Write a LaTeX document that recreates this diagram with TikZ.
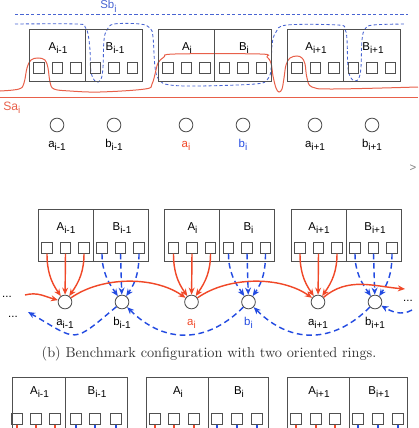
\documentclass[tikz,border=0pt]{standalone}
\usepackage{fontspec}
\newfontfamily\lblfont{Liberation Sans}
\usetikzlibrary{positioning,arrows.meta}

\definecolor{ringred}{RGB}{240,72,40}
\definecolor{ringblue}{RGB}{35,75,225}
\definecolor{setred}{RGB}{232,96,74}
\definecolor{setblue}{RGB}{72,100,210}
\definecolor{boxgray}{RGB}{80,80,80}

\newcommand{\sublbl}[2]{#1\raisebox{-0.6ex}{\fontsize{7}{8}\selectfont #2}}

\begin{document}
\begin{tikzpicture}[x=0.7pt, y=0.7pt, >={Stealth[length=5pt,width=4.2pt]},
    half/.style={rectangle, draw=boxgray, line width=0.7pt, minimum height=36.4pt, inner sep=0pt},
    port/.style={rectangle, draw=boxgray, line width=0.6pt, minimum size=7.2pt, inner sep=0pt},
    stn/.style={circle, draw=boxgray, line width=0.6pt, minimum size=9.6pt, inner sep=0pt},
    txt/.style={font=\lblfont\fontsize{8}{9}\selectfont, anchor=base, inner sep=0pt},
    redarr/.style={->, ringred, line width=1pt},
    bluearr/.style={->, ringblue, line width=1pt, dash pattern=on 4pt off 2.6pt},
    sa/.style={setred, line width=0.7pt},
    sb/.style={setblue, line width=0.6pt, dash pattern=on 2.2pt off 1.6pt}]
\useasboundingbox (0,0) rectangle (418,-428);

% Sets Sa and Sb
\draw[sb] (15,-14) -- (408,-14);
\draw[sb] plot[smooth, tension=0.6] coordinates {(15,-24) (77,-24) (85,-27) (88,-34) (90,-50) (91,-72) (96,-82) (101,-79) (103,-67) (104,-40) (107,-30) (114,-24) (140,-24) (150,-28) (153,-37) (155,-67) (159,-80) (170,-85) (200,-86) (255,-84) (267,-80) (271,-70) (272,-45) (276,-32) (287,-25) (338,-25) (345,-29) (347,-40) (348,-68) (351,-78) (355,-81) (359,-78) (361,-67) (362,-40) (365,-29) (373,-25) (405,-24)};
\draw[sa] (0,-97) -- (418,-97);
\draw[sa] plot[smooth, tension=0.6] coordinates {(0,-91) (19,-89) (24,-83) (27,-68) (31,-60) (38,-58) (45,-60) (48,-68) (50,-82) (54,-89) (70,-91) (100,-92) (145,-89) (152,-84) (156,-70) (158,-63) (164,-57) (175,-54) (260,-54) (267,-57) (271,-63) (273,-76) (276,-88) (279,-92) (282,-89) (284,-78) (286,-65) (290,-58) (297,-56) (302,-58) (305,-64) (307,-78) (312,-87) (333,-89) (418,-87)};
\node[txt, anchor=base west, text=setblue] (sblbl) at (100,-8.5) {\sublbl{Sb}{i}};
\node[txt, anchor=base west, text=setred, font=\lblfont\fontsize{8.5}{10}\selectfont] (salbl) at (3,-110) {\sublbl{Sa}{i}};

% (a) groups
\foreach \g/\s/\L/\ca/\cb in {1/i-1/29/black/black, 2/i/158/ringred/ringblue, 3/i+1/287/black/black}{
  \node[half, minimum width=39.55pt] (tA\g) at (\L+28.25,-55) {};
  \node[half, minimum width=39.55pt] (tB\g) at (\L+84.75,-55) {};
  \node[txt] (tAl\g) at (\L+29,-50) {\sublbl{A}{\s}};
  \node[txt] (tBl\g) at (\L+86,-50) {\sublbl{B}{\s}};
  \foreach \k/\dx in {1/10, 2/28.5, 3/47}{
    \node[port] (tA\g-\k) at (\L+\dx,-68) {};
    \node[port] (tB\g-\k) at (\L+56.5+\dx,-68) {};
  }
  \node[stn] (ta\g) at (\L+28,-125) {};
  \node[stn] (tb\g) at (\L+85,-125) {};
  \node[txt, text=\ca] (tal\g) at (\L+28,-147) {\sublbl{a}{\s}};
  \node[txt, text=\cb] (tbl\g) at (\L+85,-147) {\sublbl{b}{\s}};
}
\node[txt, text=black!50] (cut) at (413,-171) {>};

% (b) two oriented rings
\foreach \g/\s/\L/\ca/\cb in {1/i-1/38/black/black, 2/i/164.5/ringred/ringblue, 3/i+1/291/black/black}{
  \node[half, minimum width=38.5pt] (mA\g) at (\L+27.5,-235) {};
  \node[half, minimum width=38.5pt] (mB\g) at (\L+82.5,-235) {};
  \node[txt] (mAl\g) at (\L+28,-230) {\sublbl{A}{\s}};
  \node[txt] (mBl\g) at (\L+84,-230) {\sublbl{B}{\s}};
  \foreach \k/\dx in {1/9, 2/27.5, 3/46}{
    \node[port] (mA\g-\k) at (\L+\dx,-248) {};
    \node[port] (mB\g-\k) at (\L+55+\dx,-248) {};
  }
  \node[stn] (ma\g) at (\L+27,-302) {};
  \node[stn] (mb\g) at (\L+84,-302) {};
  \node[txt, text=\ca] (mal\g) at (\L+27,-325) {\sublbl{a}{\s}};
  \node[txt, text=\cb] (mbl\g) at (\L+84,-325) {\sublbl{b}{\s}};
  \draw[redarr] (mA\g-1.south) to[out=-90,in=125] (ma\g);
  \draw[redarr] (mA\g-2.south) -- (ma\g);
  \draw[redarr] (mA\g-3.south) to[out=-90,in=55] (ma\g);
  \draw[bluearr] (mB\g-1.south) to[out=-90,in=125] (mb\g);
  \draw[bluearr] (mB\g-2.south) -- (mb\g);
  \draw[bluearr] (mB\g-3.south) to[out=-90,in=55] (mb\g);
}
\node[txt] (dotsr) at (7,-297) {...};
\node[txt] (dotsb) at (13,-317) {...};
\node[txt] (dotse) at (408,-301) {...};
\coordinate (rin) at (25,-295);
\coordinate (rout) at (405,-289);
\draw[redarr] (rin) to[out=15,in=165] (ma1);
\draw[redarr] (ma1) to[out=35,in=145,looseness=0.85] (ma2);
\draw[redarr] (ma2) to[out=35,in=145,looseness=0.85] (ma3);
\draw[redarr] (ma3) to[out=40,in=175] (rout);
\coordinate (bin) at (412,-310);
\coordinate (bout) at (28,-312);
\draw[bluearr] (bin) to[out=210,in=-30] (mb3);
\draw[bluearr] (mb3) to[out=-135,in=-45,looseness=1.15] (mb2);
\draw[bluearr] (mb2) to[out=-135,in=-45,looseness=1.15] (mb1);
\draw[bluearr] (mb1) to[out=-140,in=-30,looseness=1.7] (bout);
\node[font=\fontsize{10}{12}\selectfont, text=black!80, anchor=base] (capb) at (209,-357) {(b) Benchmark configuration with two oriented rings.};

% (c)
\foreach \g/\s/\L/\M/\R/\xs in {1/i-1/12/65/127/{17,36,55,76,95,116}, 2/i/146/208/268/{155,174,194,217,237,257}, 3/i+1/287/349/407/{296,316,335,358,378,398}}{
  \node[half, minimum width={(\M-\L)*0.7pt}, minimum height=44.1pt] (bA\g) at ({(\L+\M)/2},-408.5) {};
  \node[half, minimum width={(\R-\M)*0.7pt}, minimum height=44.1pt] (bB\g) at ({(\M+\R)/2},-408.5) {};
  \node[txt] (bAl\g) at ({(\L+\M)/2+1},-394) {\sublbl{A}{\s}};
  \node[txt] (bBl\g) at ({(\M+\R)/2+1},-394) {\sublbl{B}{\s}};
  \foreach \x [count=\k] in \xs {
    \ifnum\k<4 \def\stub{ringred}\else\def\stub{ringblue}\fi
    \node[port] (bP\g-\k) at (\x,-419) {};
    \draw[\stub, line width=1pt] (bP\g-\k.south) -- ++(0,-12);
  }
}
\end{tikzpicture}
\end{document}
